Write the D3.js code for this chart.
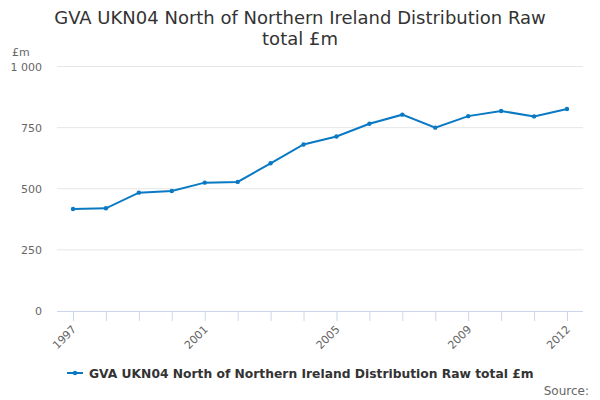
<!DOCTYPE html>
<html><head><meta charset="utf-8">
<script src="https://cdn.jsdelivr.net/npm/d3@7"></script>
<style>body{margin:0;background:#fff;} svg{display:block;font-family:"DejaVu Sans",sans-serif;}</style>
</head><body>
<svg id="c" width="600" height="400"></svg>
<script>
const years = ["1997","1998","1999","2000","2001","2002","2003","2004","2005","2006","2007","2008","2009","2010","2011","2012"];
const values = [417,420,484,491,525,528,604,681,714,766,803,750,797,818,796,826];
const yTicks = [0,250,500,750,1000];
const xLabels = ["1997","2001","2005","2009","2012"];
const titleLines = ["GVA UKN04 North of Northern Ireland Distribution Raw","total £m"];
const seriesName = "GVA UKN04 North of Northern Ireland Distribution Raw total £m";

(function(){
const svg = d3.select("#c");
const pLeft = 57, pRight = 583, pTop = 66.5, pBottom = 311;
const x = d3.scalePoint().domain(years).range([73, 567]);
const y = d3.scaleLinear().domain([0,1000]).range([pBottom, pTop]);
const color = "#0a79c4";

svg.append("g").selectAll("text").data(titleLines).join("text")
  .attr("x", 300).attr("y", (d,i)=>24 + i*21).attr("text-anchor","middle")
  .attr("font-size", 18).attr("fill","#333").text(d=>d);

svg.append("text").attr("x",12).attr("y",56).attr("font-size",11).attr("fill","#666").text("£m");

svg.append("g").selectAll("line").data(yTicks.filter(d=>d>0)).join("line")
  .attr("x1",pLeft).attr("x2",pRight).attr("y1",d=>y(d)).attr("y2",d=>y(d))
  .attr("stroke","#e6e6e6").attr("stroke-width",1);

const fmt = d => d >= 1000 ? d3.format(",")(d).replace(",", " ") : String(d);
svg.append("g").selectAll("text").data(yTicks).join("text")
  .attr("x",42).attr("y",d=>y(d)+4).attr("text-anchor","end")
  .attr("font-size",11).attr("fill","#666").text(fmt);

const xAxis = d3.axisBottom(x).tickSize(10).tickFormat("");
const gx = svg.append("g").attr("transform",`translate(0,${pBottom})`).call(xAxis);
gx.select(".domain").attr("d",`M${pLeft},0.5H${pRight}`).attr("stroke","#ccd6eb");
gx.selectAll(".tick line").attr("stroke","#ccd6eb");
svg.append("g").selectAll("text").data(xLabels).join("text")
  .attr("transform",d=>`translate(${x(d)+4},${pBottom+19}) rotate(-45)`)
  .attr("text-anchor","end").attr("font-size",11).attr("fill","#666").text(d=>d);

const data = years.map((yr,i)=>({yr, v: values[i]}));
svg.append("path").datum(data)
  .attr("d", d3.line().x(d=>x(d.yr)).y(d=>y(d.v)))
  .attr("fill","none").attr("stroke",color).attr("stroke-width",2);
svg.append("g").selectAll("circle").data(data).join("circle")
  .attr("cx",d=>x(d.yr)).attr("cy",d=>y(d.v)).attr("r",2.2).attr("fill",color);

svg.append("line").attr("x1",67).attr("x2",83).attr("y1",373).attr("y2",373).attr("stroke",color).attr("stroke-width",2);
svg.append("circle").attr("cx",75).attr("cy",373).attr("r",2.2).attr("fill",color);
svg.append("text").attr("x",89).attr("y",377.5).attr("font-size",12.3).attr("font-weight","bold").attr("fill","#333").text(seriesName);
svg.append("text").attr("x",589).attr("y",395).attr("text-anchor","end").attr("font-size",12).attr("fill","#666").text("Source:");
})();
</script>
</body></html>
